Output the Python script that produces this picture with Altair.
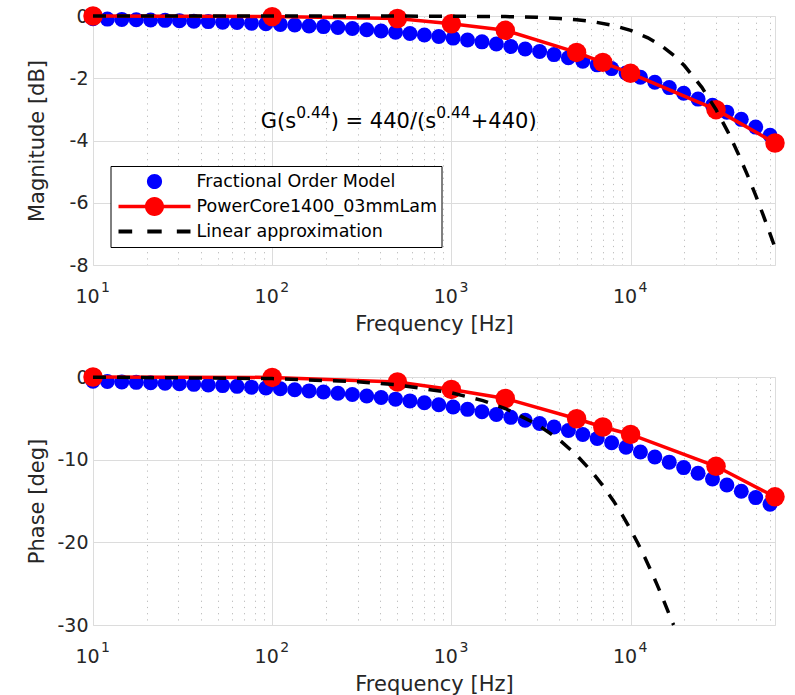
import altair as alt
import pandas as pd

FONT = "DejaVu Sans"
TXT = "#262626"
BLUE = "#0000ff"
RED = "#ff0000"

# ---- Fractional order model (blue dots) ----
frac_freq = [10, 12.03, 14.48, 17.43, 20.97, 25.24, 30.37, 36.55, 43.98, 52.92,
             63.68, 76.63, 92.22, 111.0, 133.6, 160.7, 193.4, 232.8, 280.1, 337.1,
             405.5, 488.2, 587.4, 706.9, 850.6, 1023, 1231, 1482, 1783, 2146,
             2582, 3108, 3740, 4500, 5416, 6516, 7842, 9436, 11355, 13665,
             16444, 19790, 23815, 28657, 34486, 41495, 49935, 60090]
frac_mag = [-0.09, -0.10, -0.11, -0.12, -0.13, -0.14, -0.15, -0.17, -0.18, -0.20,
            -0.21, -0.23, -0.25, -0.27, -0.29, -0.32, -0.34, -0.37, -0.40, -0.44,
            -0.48, -0.52, -0.56, -0.61, -0.66, -0.71, -0.77, -0.83, -0.90, -0.98,
            -1.06, -1.14, -1.24, -1.34, -1.45, -1.57, -1.69, -1.83, -1.97, -2.13,
            -2.30, -2.48, -2.67, -2.87, -3.09, -3.32, -3.57, -3.83]
frac_phase = [-0.51, -0.55, -0.60, -0.65, -0.70, -0.76, -0.82, -0.89, -0.96, -1.04,
              -1.13, -1.23, -1.33, -1.43, -1.55, -1.68, -1.82, -1.96, -2.12, -2.29,
              -2.48, -2.68, -2.89, -3.12, -3.36, -3.63, -3.91, -4.21, -4.53, -4.88,
              -5.24, -5.63, -6.04, -6.48, -6.95, -7.44, -7.96, -8.50, -9.08, -9.68,
              -10.30, -10.96, -11.64, -12.34, -13.07, -13.82, -14.59, -15.38]

# ---- Measurement PowerCore1400_03mmLam (red) ----
meas_freq = [10, 100, 500, 1000, 2000, 5000, 7000, 10000, 30000, 64000]
meas_mag = [0.0, -0.02, -0.08, -0.25, -0.46, -1.17, -1.49, -1.84, -3.01, -4.08]
meas_phase = [0.0, -0.05, -0.6, -1.5, -2.6, -5.05, -6.05, -6.95, -10.8, -14.5]

# ---- Linear approximation (black dashed) ----
lin_freq_mag = [10, 100, 1000, 2000, 3000, 4000, 5000, 6000, 8000, 10000, 12500,
                15000, 17500, 20000, 25000, 30000, 35000, 40000, 45000, 50000,
                55000, 60000, 64000]
lin_mag = [0.0, 0.0, -0.005, -0.02, -0.04, -0.08, -0.12, -0.17, -0.30, -0.46, -0.70,
           -0.97, -1.27, -1.60, -2.29, -3.01, -3.73, -4.44, -5.12, -5.77,
           -6.40, -6.99, -7.44]
lin_freq_ph = [10, 100, 300, 500, 1000, 1500, 2000, 3000, 4000, 5000, 6000, 7000,
               8000, 9000, 10000, 11000, 12000, 13000, 14000, 15000, 16000, 17000, 17400]
lin_phase = [-0.02, -0.19, -0.57, -0.95, -1.91, -2.86, -3.81, -5.71, -7.59, -9.46,
             -11.31, -13.13, -14.93, -16.70, -18.43, -20.14, -21.80, -23.43, -25.02,
             -26.57, -28.07, -29.54, -30.0]

series_names = ["Fractional Order Model", "PowerCore1400_03mmLam", "Linear approximation"]
decade_ticks = [10, 100, 1000, 10000]
minor_ticks = [20, 30, 40, 50, 60, 70, 80, 90, 200, 300, 400, 500, 600, 700, 800, 900,
               2000, 3000, 4000, 5000, 6000, 7000, 8000, 9000,
               20000, 30000, 40000, 50000, 60000]

# legend symbol shapes (unit box -1..1)
SYM_DOT = "M-0.21,0A0.21,0.21,0,1,1,0.21,0A0.21,0.21,0,1,1,-0.21,0Z"
SYM_LINE_DOT = ("M-1,-0.05L1,-0.05L1,0.05L-1,0.05Z"
                "M-0.265,0A0.265,0.265,0,1,1,0.265,0A0.265,0.265,0,1,1,-0.265,0Z")
SYM_DASH = ("M-1,-0.055L-0.62,-0.055L-0.62,0.055L-1,0.055Z"
            "M-0.2,-0.055L0.2,-0.055L0.2,0.055L-0.2,0.055Z"
            "M0.62,-0.055L1,-0.055L1,0.055L0.62,0.055Z")

xscale = alt.Scale(type="log", domain=[10, 64000], nice=False)

x_axis_major = alt.Axis(values=decade_ticks, labelExpr="'10'", orient="bottom",
                        labelFont=FONT, labelFontSize=19, labelColor=TXT,
                        labelPadding=22, labelOffset=-6, labelFlush=False,
                        ticks=False, domain=False,
                        grid=True, gridColor="#dcdcdc", gridWidth=1,
                        title="Frequency [Hz]", titleFont=FONT, titleFontSize=21,
                        titleFontWeight="normal", titleColor=TXT, titlePadding=7)

x_axis_sup = alt.Axis(values=decade_ticks, orient="bottom",
                      labelExpr="'' + round(log(datum.value) / LN10)",
                      labelFont=FONT, labelFontSize=14, labelColor=TXT,
                      labelPadding=15, labelOffset=12, labelFlush=False,
                      ticks=False, domain=False, grid=False, title="")

x_axis_minor = alt.Axis(values=minor_ticks, orient="bottom", labels=False, ticks=False,
                        domain=False, grid=True, gridColor="#bcbcbc",
                        gridDash=[1.2, 5], gridWidth=1, title="")


def y_axis(values, title):
    return alt.Axis(values=values, labelExpr="'' + datum.value",
                    labelFont=FONT, labelFontSize=19, labelColor=TXT, labelPadding=5,
                    ticks=False, domain=False, grid=True, gridColor="#dcdcdc",
                    gridWidth=1, minExtent=37, maxExtent=37,
                    title=title, titleFont=FONT, titleFontSize=21,
                    titleFontWeight="normal", titleColor=TXT, titlePadding=9)


def panel(blue_vals, red_vals, lin_freq, lin_vals, ydomain, yvalues, ytitle, h,
          extra=None):
    yscale = alt.Scale(domain=ydomain, nice=False, zero=False)
    yax = y_axis(yvalues, ytitle)
    df_frac = pd.DataFrame({"f": frac_freq, "v": blue_vals})
    df_meas = pd.DataFrame({"f": meas_freq, "v": red_vals})
    df_lin = pd.DataFrame({"f": lin_freq, "v": lin_vals})

    blue = alt.Chart(df_frac).mark_circle(size=225, color=BLUE, opacity=1).encode(
        x=alt.X("f:Q", scale=xscale, axis=x_axis_major),
        y=alt.Y("v:Q", scale=yscale, axis=yax))
    red_line = alt.Chart(df_meas).mark_line(color=RED, strokeWidth=3.5).encode(
        x=alt.X("f:Q", scale=xscale, axis=x_axis_sup),
        y=alt.Y("v:Q", scale=yscale, axis=yax))
    red_pts = alt.Chart(df_meas).mark_circle(size=380, color=RED, opacity=1).encode(
        x=alt.X("f:Q", scale=xscale, axis=None),
        y=alt.Y("v:Q", scale=yscale, axis=yax))
    black = alt.Chart(df_lin).mark_line(color="black", strokeWidth=3.5,
                                        strokeDash=[13, 11]).encode(
        x=alt.X("f:Q", scale=xscale, axis=x_axis_minor),
        y=alt.Y("v:Q", scale=yscale, axis=yax))
    layers = [blue, red_line, red_pts, black]
    if extra:
        layers += extra(yscale, yax)
    return alt.layer(*layers).resolve_axis(x="independent").properties(
        width=682, height=h)


def top_extras(yscale, yax):
    df_leg = pd.DataFrame({"series": series_names})
    leg = dict(title=None, orient="none", legendX=17.5, legendY=150,
               direction="vertical", fillColor="white", strokeColor="black",
               padding=4, symbolSize=5184, symbolOffset=4, clipHeight=23,
               rowPadding=2, symbolStrokeWidth=0, labelFont=FONT,
               labelFontSize=17.5, labelColor="black", labelOffset=6,
               labelLimit=500)
    legend_layer = alt.Chart(df_leg).transform_filter("false").mark_point(
        filled=True, opacity=1).encode(
        color=alt.Color("series:N",
                        scale=alt.Scale(domain=series_names, range=[BLUE, RED, "black"]),
                        legend=alt.Legend(**leg)),
        shape=alt.Shape("series:N",
                        scale=alt.Scale(domain=series_names,
                                        range=[SYM_DOT, SYM_LINE_DOT, SYM_DASH]),
                        legend=alt.Legend(**leg)))
    ax = alt.XDatum(86.3, axis=None)
    ay = alt.YDatum(-3.61, axis=yax)
    pieces = [("G(s", 0, 0, 21), ("0.44", 35.5, -10, 15.5), (") = 440/(s", 70, 0, 21),
              ("0.44", 175.5, -10, 15.5), ("+440)", 210, 0, 21)]
    texts = []
    for t, dx, dy, fs in pieces:
        texts.append(alt.Chart().mark_text(text=t, dx=dx, dy=dy, fontSize=fs, font=FONT,
                                           color="black", align="left",
                                           baseline="alphabetic").encode(x=ax, y=ay))
    return [legend_layer] + texts


top = panel(frac_mag, meas_mag, lin_freq_mag, lin_mag, [-8, 0], [-8, -6, -4, -2, 0],
            "Magnitude [dB]", 249, extra=top_extras)
bottom = panel(frac_phase, meas_phase, lin_freq_ph, lin_phase, [-30, 0],
               [-30, -20, -10, 0], "Phase [deg]", 248)

chart = alt.vconcat(top, bottom, spacing=112, bounds="flush").properties(
    padding={"left": 25, "top": 5, "right": 5, "bottom": 5}
).configure_view(stroke=TXT, strokeWidth=1).configure(background="white")

chart.save("out.html", embed_options={"renderer": "svg", "actions": False})
